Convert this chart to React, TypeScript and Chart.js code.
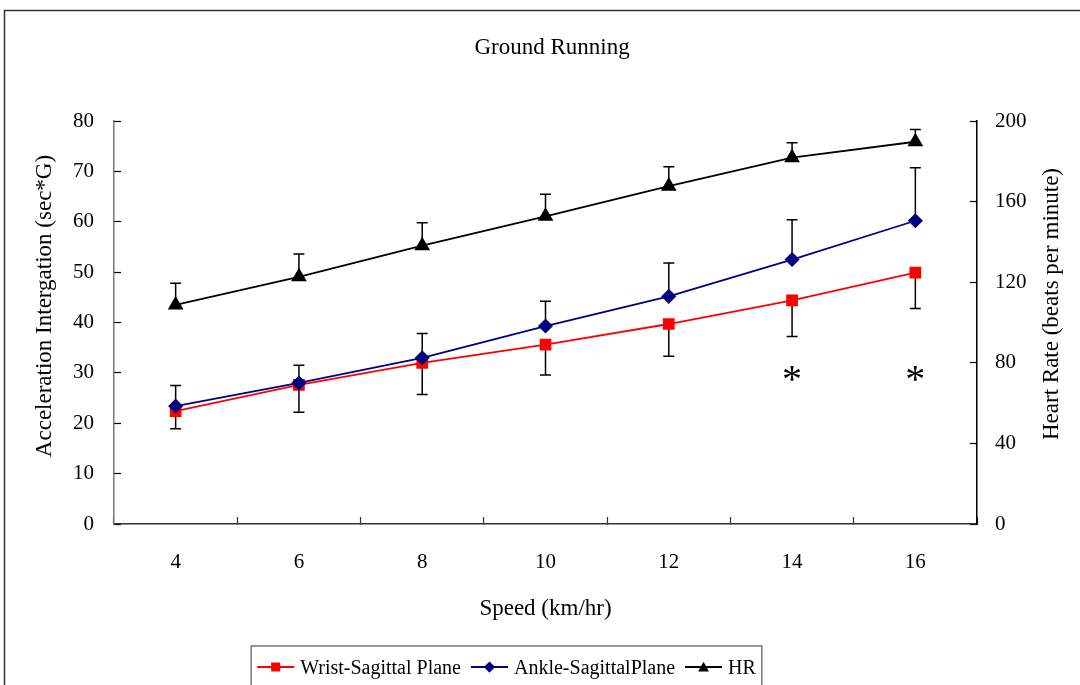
import React, { useEffect, useRef } from "react";
import { Chart, registerables } from "chart.js";

Chart.register(...registerables);

const speeds = ["4", "6", "8", "10", "12", "14", "16"];
const wristValues = [22.4, 27.6, 32.0, 35.6, 39.7, 44.4, 49.9];
const wristErrors = [3.5, 5.4, 6.3, 6.0, 6.4, 7.2, 7.1];
const ankleValues = [23.4, 28.0, 33.0, 39.3, 45.2, 52.5, 60.2];
const ankleErrors = [4.1, 3.5, 4.8, 4.9, 6.6, 7.9, 10.5];
const hrValues = [108.7, 122.7, 138.1, 152.7, 167.7, 181.8, 189.7];
const hrErrors = [10.8, 11.3, 11.4, 10.9, 9.6, 7.4, 6.1];
const significantSpeeds = ["14", "16"];
const asteriskLevel = 29.6;

const chartTitle = "Ground Running";
const xTitle = "Speed (km/hr)";
const yLeftTitle = "Acceleration Intergation (sec*G)";
const yRightTitle = "Heart Rate (beats per minute)";
const seriesLabels = ["Wrist-Sagittal Plane", "Ankle-SagittalPlane", "HR"];

const FONT = "'Liberation Serif', 'Times New Roman', serif";

// error direction: +1 upper only, -1 lower only
const errorSpec = [
  { errors: wristErrors, dir: -1 },
  { errors: ankleErrors, dir: 1 },
  { errors: hrErrors, dir: 1 },
];

function markerPath(ctx: CanvasRenderingContext2D, style: string, x: number, y: number, s: number) {
  ctx.beginPath();
  if (style === "rect") {
    ctx.rect(x - s, y - s, 2 * s, 2 * s);
  } else if (style === "rectRot") {
    ctx.moveTo(x, y - s * 1.25);
    ctx.lineTo(x + s * 1.25, y);
    ctx.lineTo(x, y + s * 1.25);
    ctx.lineTo(x - s * 1.25, y);
    ctx.closePath();
  } else {
    ctx.moveTo(x, y - s * 1.15);
    ctx.lineTo(x + s * 1.2, y + s);
    ctx.lineTo(x - s * 1.2, y + s);
    ctx.closePath();
  }
}

const decorPlugin = {
  id: "decor",
  beforeDatasetsDraw(chart: any) {
    const ctx = chart.ctx as CanvasRenderingContext2D;
    ctx.save();
    ctx.strokeStyle = "#000";
    ctx.lineWidth = 1.5;
    chart.data.datasets.forEach((ds: any, i: number) => {
      const meta = chart.getDatasetMeta(i);
      const yScale = chart.scales[ds.yAxisID];
      const spec = errorSpec[i];
      meta.data.forEach((pt: any, j: number) => {
        const v = ds.data[j] as number;
        const e = spec.errors[j];
        const yEnd = yScale.getPixelForValue(v + spec.dir * e);
        ctx.beginPath();
        ctx.moveTo(pt.x, pt.y);
        ctx.lineTo(pt.x, yEnd);
        ctx.moveTo(pt.x - 5.5, yEnd);
        ctx.lineTo(pt.x + 5.5, yEnd);
        ctx.stroke();
      });
    });
    ctx.restore();
  },
  afterDraw(chart: any) {
    const ctx = chart.ctx as CanvasRenderingContext2D;
    const { x, y } = chart.scales;
    ctx.save();
    // outer frame
    ctx.strokeStyle = "#333";
    ctx.lineWidth = 1.5;
    ctx.strokeRect(4.5, 10.5, 1200, 800);

    ctx.fillStyle = "#000";
    ctx.textAlign = "center";
    ctx.textBaseline = "middle";
    // chart title
    ctx.font = `23px ${FONT}`;
    ctx.fillText(chartTitle, 552, 48);

    // axis titles
    ctx.save();
    ctx.translate(45, 306);
    ctx.rotate(-Math.PI / 2);
    ctx.fillText(yLeftTitle, 0, 0);
    ctx.restore();
    ctx.save();
    ctx.translate(1052, 304);
    ctx.rotate(-Math.PI / 2);
    ctx.fillText(yRightTitle, 0, 0);
    ctx.restore();

    // asterisks
    ctx.font = `40px ${FONT}`;
    significantSpeeds.forEach((s) => {
      const px = x.getPixelForValue(speeds.indexOf(s));
      const py = y.getPixelForValue(asteriskLevel);
      ctx.fillText("*", px, py + 7);
    });

    // legend
    ctx.font = `20px ${FONT}`;
    const sample = 37;
    const gap = 6;
    const itemGap = 10;
    const widths = seriesLabels.map((l) => ctx.measureText(l).width);
    let content = 0;
    widths.forEach((w, i) => {
      content += sample + gap + w + (i < widths.length - 1 ? itemGap : 0);
    });
    const boxW = content + 12;
    const boxLeft = 506.5 - boxW / 2;
    ctx.strokeStyle = "#555";
    ctx.lineWidth = 1.2;
    ctx.strokeRect(boxLeft, 646, boxW, 60);
    let cx = boxLeft + 6;
    const ly = 667;
    chart.data.datasets.forEach((ds: any, i: number) => {
      ctx.strokeStyle = ds.borderColor;
      ctx.lineWidth = 1.8;
      ctx.beginPath();
      ctx.moveTo(cx, ly);
      ctx.lineTo(cx + sample, ly);
      ctx.stroke();
      ctx.fillStyle = ds.pointBackgroundColor;
      markerPath(ctx, ds.pointStyle, cx + sample / 2, ly, 4.5);
      ctx.fill();
      ctx.fillStyle = "#000";
      ctx.textAlign = "left";
      ctx.fillText(seriesLabels[i], cx + sample + gap, 669);
      cx += sample + gap + widths[i] + itemGap;
    });
    ctx.restore();
  },
};

export default function App() {
  const canvasRef = useRef<HTMLCanvasElement | null>(null);

  useEffect(() => {
    if (!canvasRef.current) return;
    const tickFont = { family: FONT, size: 21 };
    const chart = new Chart(canvasRef.current, {
      type: "line",
      data: {
        labels: speeds,
        datasets: [
          {
            label: seriesLabels[0],
            data: wristValues,
            yAxisID: "y",
            borderColor: "#ff0000",
            backgroundColor: "#ff0000",
            pointBackgroundColor: "#ff0000",
            pointBorderColor: "#ff0000",
            pointStyle: "rect",
            pointRadius: 7,
            borderWidth: 1.8,
            order: 2,
          },
          {
            label: seriesLabels[1],
            data: ankleValues,
            yAxisID: "y",
            borderColor: "#000080",
            backgroundColor: "#000080",
            pointBackgroundColor: "#000080",
            pointBorderColor: "#000080",
            pointStyle: "rectRot",
            pointRadius: 6.3,
            borderWidth: 1.8,
            order: 1,
          },
          {
            label: seriesLabels[2],
            data: hrValues,
            yAxisID: "y1",
            borderColor: "#000000",
            backgroundColor: "#000000",
            pointBackgroundColor: "#000000",
            pointBorderColor: "#000000",
            pointStyle: "triangle",
            pointRadius: 7.3,
            borderWidth: 1.8,
            order: 0,
          },
        ] as any,
      },
      options: {
        responsive: false,
        animation: false,
        layout: { padding: { top: 121, left: 0, right: 0, bottom: 0 } },
        plugins: {
          legend: { display: false },
          title: { display: false },
          tooltip: { enabled: false },
        },
        scales: {
          x: {
            type: "category",
            offset: true,
            grid: { offset: true, drawOnChartArea: false, tickLength: -7, color: "#333", tickWidth: 1.2 },
            border: { color: "#333", width: 1.5 },
            ticks: { padding: 33, color: "#000", font: tickFont },
            title: {
              display: true,
              text: xTitle,
              color: "#000",
              font: { family: FONT, size: 23 },
              padding: { top: 0, bottom: 62 },
            },
            afterFit(s: any) {
              s.height = 161;
            },
          },
          y: {
            position: "left",
            min: 0,
            max: 80,
            ticks: { stepSize: 10, padding: 27, color: "#000", font: tickFont },
            grid: { drawOnChartArea: false, tickLength: -7, color: "#000", tickWidth: 1.2 },
            border: { color: "#777", width: 1.5 },
            afterFit(s: any) {
              s.width = 114;
            },
          },
          y1: {
            position: "right",
            min: 0,
            max: 200,
            ticks: { stepSize: 40, padding: 25, color: "#000", font: tickFont },
            grid: { drawOnChartArea: false, tickLength: -7, color: "#000", tickWidth: 1.2 },
            border: { color: "#000", width: 1.5 },
            afterFit(s: any) {
              s.width = 103;
            },
          },
        },
      } as any,
      plugins: [decorPlugin],
    });
    return () => chart.destroy();
  }, []);

  return (
    <div style={{ position: "fixed", left: 0, top: 0, width: 1080, height: 685, background: "#fff" }}>
      <canvas ref={canvasRef} width={1080} height={685} />
    </div>
  );
}
